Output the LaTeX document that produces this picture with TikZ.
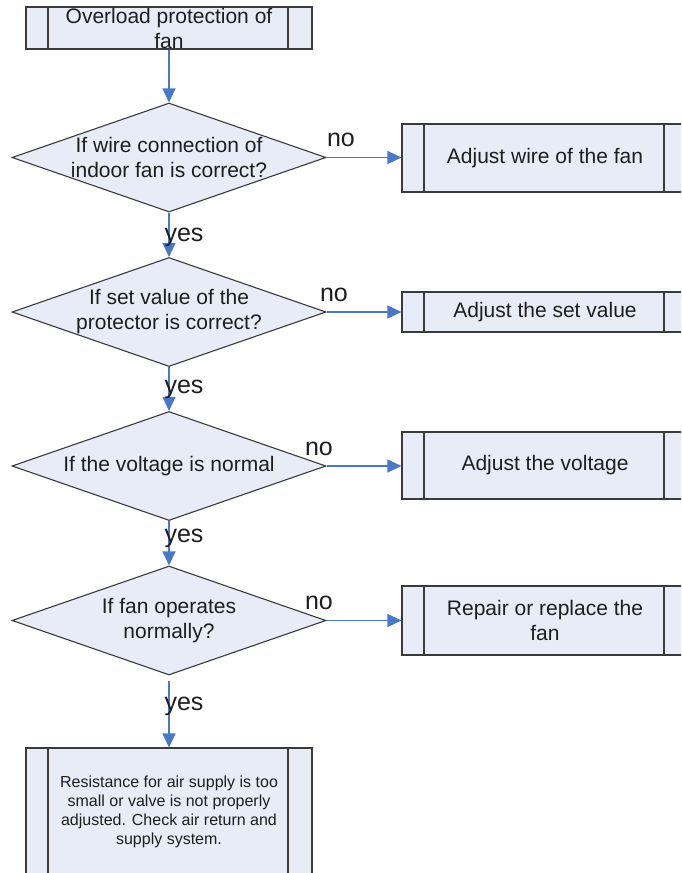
\documentclass[tikz,border=0pt]{standalone}
\usepackage{fontspec}
\setmainfont{Liberation Sans}
\usetikzlibrary{shapes.geometric,arrows.meta}

\definecolor{boxfill}{RGB}{231,236,247}
\definecolor{boxline}{RGB}{58,58,58}
\definecolor{flowblue}{RGB}{72,120,198}
\definecolor{txt}{RGB}{30,30,30}

\tikzset{
  procbox/.style={draw=boxline, fill=boxfill, line width=1.1pt, minimum width=286pt,
    inner sep=0pt, align=center, text=txt, font=\fontsize{21pt}{25pt}\selectfont,
    path picture={
      \draw[boxline, line width=1.1pt]
        ([xshift=22pt]path picture bounding box.north west) -- ([xshift=22pt]path picture bounding box.south west)
        ([xshift=-24pt]path picture bounding box.north east) -- ([xshift=-24pt]path picture bounding box.south east);
    }},
  decision/.style={diamond, draw=boxline, fill=boxfill, line width=1.1pt,
    minimum width=314pt, minimum height=109pt, inner sep=0pt},
  dtext/.style={align=center, text=txt, inner sep=0pt, font=\fontsize{21pt}{25pt}\selectfont},
  answer/.style={text=txt, inner sep=0pt, font=\fontsize{25pt}{28pt}\selectfont},
  flow/.style={draw=flowblue, line width=1.2pt, -{Triangle[width=13pt,length=14pt]}},
}

\begin{document}
\begin{tikzpicture}[x=1pt,y=-1pt]
  \useasboundingbox (0,0) rectangle (681,873);
  \clip (0,0) rectangle (681,873);

  % start
  \node[procbox, minimum height=42pt] (start) at (169,28) {Overload protection of\\fan};

  % questions
  \node[decision] (wire) at (169,157.5) {};
  \node[dtext] (wiretxt) at (wire) {If wire connection of\\indoor fan is correct?};
  \node[decision] (setval) at (169,312) {};
  \node[dtext] (setvaltxt) at (setval) {If set value of the\\protector is correct?};
  \node[decision] (volt) at (169,466) {};
  \node[dtext] (volttxt) at (volt) {If the voltage is normal};
  \node[decision] (fanop) at (169,620.5) {};
  \node[dtext] (fanoptxt) at (fanop) {If fan operates\\normally?};

  % actions on the right
  \node[procbox, minimum height=68pt] (fixwire) at (545,158) {Adjust wire of the fan};
  \node[procbox, minimum height=40pt] (fixset) at (545,312) {Adjust the set value};
  \node[procbox, minimum height=67pt] (fixvolt) at (545,465.5) {Adjust the voltage};
  \node[procbox, minimum height=69pt] (fixfan) at (545,620.5) {Repair or replace the\\fan};

  % last step
  \node[procbox, minimum height=128pt, font=\fontsize{16pt}{19pt}\selectfont] (airsys) at (169,812)
    {Resistance for air supply is too\\small or valve is not properly\\adjusted. Check air return and\\supply system.};

  % main line
  \draw[flow] (start) -- (wire);
  \draw[flow] (wire) -- (setval);
  \draw[flow] (setval) -- (volt);
  \draw[flow] (volt) -- (fanop);
  \draw[flow, shorten <=5pt] (fanop) -- (airsys);

  % branches
  \draw[flow] (wire.east) -- (wire.east -| fixwire.west);
  \draw[flow] (setval.east) -- (setval.east -| fixset.west);
  \draw[flow] (volt.east) -- (volt.east -| fixvolt.west);
  \draw[flow] (fanop.east) -- (fanop.east -| fixfan.west);

  \node[answer] (no1) at (341,140) {no};
  \node[answer] (no2) at (334,295) {no};
  \node[answer] (no3) at (319,449) {no};
  \node[answer] (no4) at (319,603) {no};
  \node[answer] (yes1) at (184,237) {yes};
  \node[answer] (yes2) at (184,389) {yes};
  \node[answer] (yes3) at (184,538) {yes};
  \node[answer] (yes4) at (184,706) {yes};
\end{tikzpicture}
\end{document}
